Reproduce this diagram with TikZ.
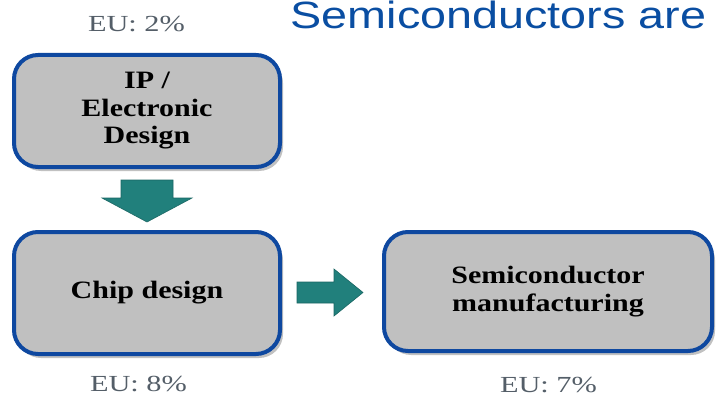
\documentclass[tikz,border=0pt]{standalone}
\usepackage{fontspec}
\usetikzlibrary{calc,shadows}

\newfontfamily\boxfont[FakeStretch=1.2]{Liberation Serif}
\newfontfamily\eufont[FakeStretch=1.32]{Liberation Serif}
\newfontfamily\titlefont[FakeStretch=1.23]{Liberation Sans}

\definecolor{boxblue}{RGB}{14,72,160}
\definecolor{boxgray}{RGB}{192,192,192}
\definecolor{flowteal}{RGB}{33,128,124}
\definecolor{titleblue}{RGB}{10,78,162}
\definecolor{eugray}{RGB}{84,94,104}

\begin{document}
\begin{tikzpicture}[x=1pt,y=-1pt,
    stagebox/.style={draw=boxblue, line width=4pt, fill=boxgray, rounded corners=24pt,
        inner sep=0pt, align=center, font=\boxfont\bfseries\fontsize{25}{27.5}\selectfont,
        drop shadow={shadow xshift=3pt, shadow yshift=-4pt, opacity=0.35, fill=black!70}},
    share/.style={anchor=base, text=eugray, font=\eufont\fontsize{23}{26}\selectfont},
    flowarrow/.style={fill=flowteal, draw=flowteal!80!black, line width=0.6pt}]
            \useasboundingbox (0,0) rectangle (718,396);

            \node[anchor=base west, text=titleblue, font=\titlefont\fontsize{38}{42}\selectfont] (title) at (287,29) {Semiconductors are};

            \node[stagebox, minimum width=266pt, minimum height=112pt] (ip) at (147,111) {IP /\\Electronic\\Design};
            \node[stagebox, minimum width=266pt, minimum height=122pt] (chip) at (147,293) {Chip design};
            \node[stagebox, minimum width=328pt, minimum height=119pt] (fab) at (548,291.5) {Semiconductor\\manufacturing};

            \node[share] (euip) at (136.5,32) {EU: 2\%};
            \node[share] (euchip) at (138.5,391) {EU: 8\%};
            \node[share] (eufab) at (548.5,392) {EU: 7\%};

            \fill[flowarrow] ($(ip.south)+(-26,11)$) -- ++(52,0) -- ++(0,18) -- ++(19,0) -- ++(-45,24) -- ++(-45,-24) -- ++(19,0) -- cycle;
            \fill[flowarrow] ($(chip.east)+(15,-11)$) -- ++(37,0) -- ++(0,-13) -- ++(29,23.5) -- ++(-29,23.5) -- ++(0,-13) -- ++(-37,0) -- cycle;
        \end{tikzpicture}
\end{document}
